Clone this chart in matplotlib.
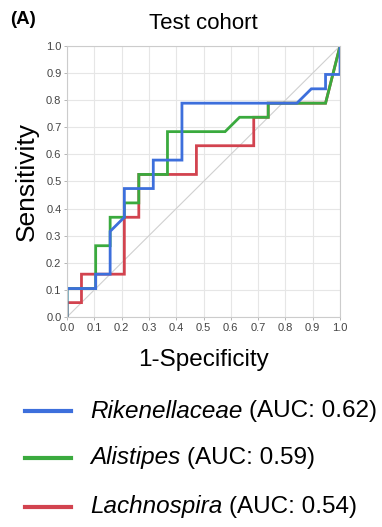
import matplotlib; matplotlib.use("Agg")
import matplotlib.pyplot as plt

plt.rcParams["font.family"] = ["Liberation Sans", "DejaVu Sans"]

# ROC step curves (1-specificity, sensitivity), n = 19 per class
riken_x = [0, 0, 0.105, 0.105, 0.158, 0.158, 0.210, 0.210, 0.316, 0.316, 0.421, 0.421, 0.842, 0.895, 0.947, 0.947, 1.0, 1.0]
riken_y = [0, 0.105, 0.105, 0.158, 0.158, 0.316, 0.368, 0.474, 0.474, 0.579, 0.579, 0.789, 0.789, 0.842, 0.842, 0.895, 0.895, 1.0]
alist_x = [0, 0, 0.105, 0.105, 0.158, 0.158, 0.210, 0.210, 0.263, 0.263, 0.368, 0.368, 0.579, 0.632, 0.737, 0.737, 0.947, 1.0]
alist_y = [0, 0.105, 0.105, 0.263, 0.263, 0.368, 0.368, 0.421, 0.421, 0.526, 0.526, 0.684, 0.684, 0.737, 0.737, 0.789, 0.789, 1.0]
lachn_x = [0, 0, 0.053, 0.053, 0.210, 0.210, 0.263, 0.263, 0.474, 0.474, 0.684, 0.684, 0.737, 0.737, 0.947, 1.0]
lachn_y = [0, 0.053, 0.053, 0.158, 0.158, 0.368, 0.368, 0.526, 0.526, 0.632, 0.632, 0.737, 0.737, 0.789, 0.789, 1.0]
names = ["Rikenellaceae", "Alistipes", "Lachnospira"]
aucs = [0.62, 0.59, 0.54]
colors = ["#3d6fdc", "#3aaa3e", "#d2434f"]
ticks = [i / 10 for i in range(11)]

fig = plt.figure(figsize=(3.82, 5.27), dpi=100)
ax = fig.add_axes([0.1754, 0.3985, 0.7147, 0.5142])
ax.plot([0, 1], [0, 1], color="#d0d0d0", lw=0.8, zorder=1)
curves = [(riken_x, riken_y), (alist_x, alist_y), (lachn_x, lachn_y)]
for (xs, ys), c in list(zip(curves, colors))[::-1]:
    ax.plot(xs, ys, color=c, lw=2.0, solid_joinstyle="miter", zorder=2)
ax.set_xlim(0, 1); ax.set_ylim(0, 1)
ax.set_xticks(ticks); ax.set_yticks(ticks)
ax.set_xticklabels([f"{t:.1f}" for t in ticks], fontsize=8, color="#444444")
ax.set_yticklabels([f"{t:.1f}" for t in ticks], fontsize=8, color="#444444")
ax.tick_params(length=2.5, width=0.6, color="#aaaaaa", pad=1.5)
ax.grid(True, color="#e6e6e6", lw=0.8)
ax.set_axisbelow(True)
for s in ax.spines.values():
    s.set_color("#cccccc"); s.set_linewidth(0.8)
ax.set_title("Test cohort", fontsize=16, pad=12)
ax.set_xlabel("1-Specificity", fontsize=17.5, labelpad=12)
ax.set_ylabel("Sensitivity", fontsize=19, labelpad=5)
fig.text(0.026, 0.955, "(A)", fontsize=13.5, fontweight="bold")

# legend, drawn by hand below the axes: italic taxon + plain AUC text
rows_y = [0.220, 0.131, 0.038]
r = fig.canvas.get_renderer()
for n, a, c, yy in zip(names, aucs, colors, rows_y):
    fig.add_artist(plt.Line2D([0.065, 0.185], [yy, yy], color=c, lw=3))
    t = fig.text(0.235, yy, n, fontsize=17.5, fontstyle="italic", va="center")
    bb = t.get_window_extent(r)
    fig.text(bb.x1 / fig.bbox.width + 0.018, yy, f"(AUC: {a:.2f})", fontsize=17.5, va="center")

fig.savefig("out.png", dpi=100)
